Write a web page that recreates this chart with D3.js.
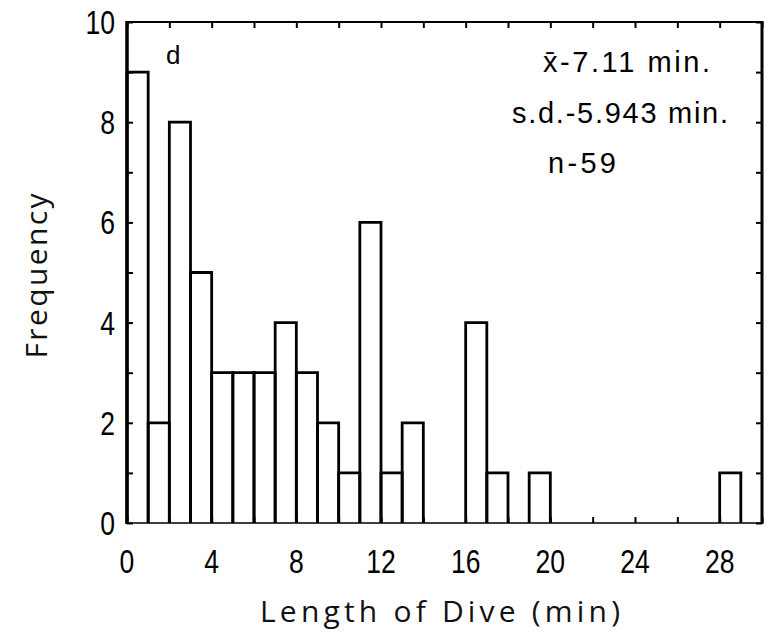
<!DOCTYPE html>
<html>
<head>
<meta charset="utf-8">
<script src="https://cdn.jsdelivr.net/npm/d3@7"></script>
<style>
  html, body { margin: 0; padding: 0; background: #fff; }
  svg { display: block; }
</style>
</head>
<body>
<svg id="chart" width="771" height="639"></svg>
<script>
// ---- data ----
const binStarts = d3.range(0, 30);           // 1-minute bins, 0..29
const frequencies = [9, 2, 8, 5, 3, 3, 3, 4, 3, 2, 1, 6, 1, 2, 0, 0, 4, 1, 0, 1, 0, 0, 0, 0, 0, 0, 0, 0, 1, 0];
const xTickValues = [0, 4, 8, 12, 16, 20, 24, 28];
const xMinorTicks = d3.range(0, 31, 2);
const yTickValues = [0, 2, 4, 6, 8, 10];
const yMinorTicks = d3.range(0, 11, 1);
const panelLabel = "d";
const statLines = ["x\u0304-7.11 min.", "s.d.-5.943 min.", "n-59"];
const xTitle = "Length of Dive (min)";
const yTitle = "Frequency";

// ---- layout ----
const W = 771, H = 639;
const L = 127, R = 762, T = 22, B = 523;
const svg = d3.select("#chart");
const x = d3.scaleLinear().domain([0, 30]).range([L, R]);
const y = d3.scaleLinear().domain([0, 10]).range([B, T]);

// ---- bars ----
const bars = binStarts.map((s, i) => ({ s, v: frequencies[i] })).filter(d => d.v > 0);
svg.append("g").selectAll("path").data(bars).join("path")
  .attr("d", d => `M${x(d.s)},${y(0)}V${y(d.v)}H${x(d.s + 1)}V${y(0)}`)
  .attr("fill", "none").attr("stroke", "#000").attr("stroke-width", 2.8);

// ---- ticks via d3 axes ----
function styleAxis(g) {
  g.select(".domain").remove();
  g.selectAll("line").attr("stroke", "#000").attr("stroke-width", 2);
  g.selectAll("text").remove();
}
svg.append("g").attr("transform", `translate(0,${B})`)
  .call(d3.axisBottom(x).tickValues(xMinorTicks).tickSize(-6).tickFormat("")).call(styleAxis);
svg.append("g").attr("transform", `translate(0,${T})`)
  .call(d3.axisTop(x).tickValues(xMinorTicks).tickSize(-6).tickFormat("")).call(styleAxis);
svg.append("g").attr("transform", `translate(${L},0)`)
  .call(d3.axisLeft(y).tickValues(yMinorTicks).tickSize(-6).tickFormat("")).call(styleAxis);
svg.append("g").attr("transform", `translate(${R},0)`)
  .call(d3.axisRight(y).tickValues(yMinorTicks).tickSize(-6).tickFormat("")).call(styleAxis);

// ---- frame ----
const frame = svg.append("g").attr("stroke", "#000").attr("fill", "none");
frame.append("line").attr("x1", L).attr("x2", L).attr("y1", T - 1).attr("y2", B + 1).attr("stroke-width", 3.5);
frame.append("line").attr("x1", L).attr("x2", R).attr("y1", T).attr("y2", T).attr("stroke-width", 2.2);
frame.append("line").attr("x1", R).attr("x2", R).attr("y1", T - 1).attr("y2", B + 1).attr("stroke-width", 3);
frame.append("line").attr("x1", L).attr("x2", R).attr("y1", B).attr("y2", B).attr("stroke-width", 1.6);

// ---- tick labels (condensed) ----
const tickFont = "'Liberation Sans', Arial, sans-serif";
svg.append("g").selectAll("text").data(xTickValues).join("text")
  .attr("transform", d => `translate(${x(d)},573) scale(0.78,1)`)
  .attr("text-anchor", "middle")
  .attr("font-family", tickFont).attr("font-size", 34)
  .text(d => d);
svg.append("g").selectAll("text").data(yTickValues).join("text")
  .attr("transform", d => `translate(115,${y(d) + 12}) scale(0.78,1)`)
  .attr("text-anchor", "end")
  .attr("font-family", tickFont).attr("font-size", 34)
  .text(d => d);

// ---- axis titles ----
const titleFont = "'Open Sans', 'DejaVu Sans', sans-serif";
svg.append("text")
  .attr("x", 440).attr("y", 622)
  .attr("text-anchor", "middle")
  .attr("font-family", titleFont).attr("font-weight", 400).attr("font-size", 30)
  .attr("fill", "#111")
  .attr("textLength", 360).attr("lengthAdjust", "spacing")
  .text(xTitle);
svg.append("text")
  .attr("transform", "translate(47,276) rotate(-90)")
  .attr("text-anchor", "middle")
  .attr("font-family", titleFont).attr("font-weight", 400).attr("font-size", 30)
  .attr("fill", "#111")
  .attr("textLength", 165).attr("lengthAdjust", "spacing")
  .text(yTitle);

// ---- annotations ----
const annFont = "'Liberation Sans', Arial, sans-serif";
svg.append("text")
  .attr("x", 166).attr("y", 64)
  .attr("font-family", annFont).attr("font-size", 26)
  .text(panelLabel);
const statPos = [
  { x: 543, y: 72, w: 167 },
  { x: 512, y: 123, w: 216 },
  { x: 548, y: 173, w: 68 }
];
svg.append("g").selectAll("text").data(statLines).join("text")
  .attr("x", (d, i) => statPos[i].x).attr("y", (d, i) => statPos[i].y)
  .attr("font-family", annFont).attr("font-size", 29)
  .attr("textLength", (d, i) => statPos[i].w).attr("lengthAdjust", "spacing")
  .text(d => d);
</script>
</body>
</html>
